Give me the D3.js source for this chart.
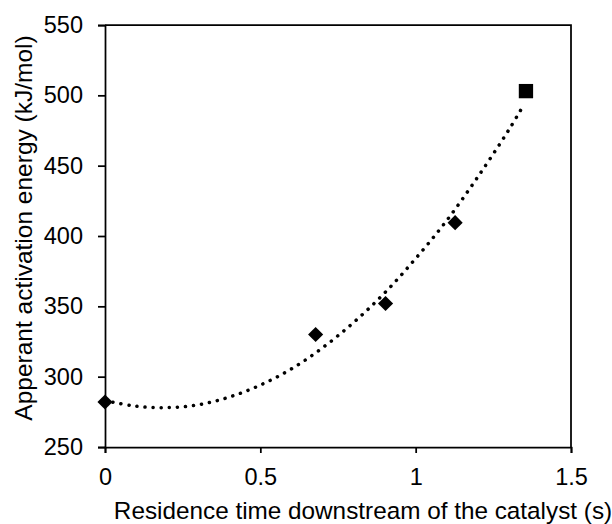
<!DOCTYPE html>
<html>
<head>
<meta charset="utf-8">
<script src="https://cdn.jsdelivr.net/npm/d3@7"></script>
<style>
  body { margin: 0; background: #fff; }
  text { font-family: "Liberation Sans", Arial, sans-serif; fill: #000; }
</style>
</head>
<body>
<div id="chart"></div>
<script>
// measured points (diamonds)
var diamondTime = [0, 0.678, 0.903, 1.127];
var diamondEnergy = [282, 330, 352, 409.5];
// last point (square)
var squareTime = [1.355];
var squareEnergy = [503];
// dotted trend curve
var trendTime = [0, 0.1, 0.2, 0.3, 0.4, 0.5, 0.6, 0.7, 0.8, 0.9, 1.0, 1.1, 1.2, 1.3, 1.35];
var trendEnergy = [283, 279, 278, 280, 285.5, 294, 305.5, 320.5, 338.5, 359.5, 384, 411, 442, 475.5, 494];
// ticks
var xTicks = [0, 0.5, 1, 1.5];
var yTicks = [250, 300, 350, 400, 450, 500, 550];

var margin = {top: 25, right: 41, bottom: 77, left: 105},
    width = 612 - margin.left - margin.right,
    height = 524 - margin.top - margin.bottom;

var svg = d3.select("#chart")
  .append("svg")
    .attr("width", 612)
    .attr("height", 524)
  .append("g")
    .attr("transform", "translate(" + margin.left + "," + margin.top + ")");

var x = d3.scaleLinear().domain([0, 1.5]).range([0, width]);
var y = d3.scaleLinear().domain([250, 550]).range([height, 0]);

// frame (top and right)
svg.append("path")
  .attr("d", "M0,0H" + width + "V" + height)
  .attr("fill", "none")
  .attr("stroke", "#000")
  .attr("stroke-width", 1.75);

// X axis
var xAxis = svg.append("g")
  .attr("transform", "translate(0," + height + ")")
  .call(d3.axisBottom(x).tickValues(xTicks).tickSize(6).tickPadding(15)
    .tickFormat(function(d) { return d; }));
xAxis.selectAll("text").style("font-size", "23.5px");

// Y axis
var yAxis = svg.append("g")
  .call(d3.axisLeft(y).tickValues(yTicks).tickSize(7).tickPadding(15));
yAxis.selectAll("text").style("font-size", "23.5px");

svg.selectAll(".domain, .tick line")
  .attr("stroke", "#000")
  .attr("stroke-width", 1.75);

// axis titles
svg.append("text")
  .attr("x", 258)
  .attr("y", height + 72)
  .style("text-anchor", "middle")
  .style("font-size", "24.3px")
  .text("Residence time downstream of the catalyst (s)");

svg.append("text")
  .attr("transform", "rotate(-90)")
  .attr("x", -203)
  .attr("y", -73)
  .style("text-anchor", "middle")
  .style("font-size", "24.5px")
  .text("Apperant activation energy (kJ/mol)");

// trend line
var trend = trendTime.map(function(t, i) { return [t, trendEnergy[i]]; });
svg.append("path")
  .datum(trend)
  .attr("d", d3.line()
    .x(function(d) { return x(d[0]); })
    .y(function(d) { return y(d[1]); })
    .curve(d3.curveCatmullRom))
  .attr("fill", "none")
  .attr("stroke", "#000")
  .attr("stroke-width", 3.5)
  .attr("stroke-linecap", "round")
  .attr("stroke-dasharray", "0.1 8");

// diamonds
var diamonds = diamondTime.map(function(t, i) { return [t, diamondEnergy[i]]; });
svg.selectAll(".diamond")
  .data(diamonds)
  .enter()
  .append("path")
    .attr("class", "diamond")
    .attr("d", d3.symbol().type(d3.symbolSquare).size(115))
    .attr("transform", function(d) {
      return "translate(" + x(d[0]) + "," + y(d[1]) + ") rotate(45)";
    })
    .attr("fill", "#000");

// square
var squares = squareTime.map(function(t, i) { return [t, squareEnergy[i]]; });
svg.selectAll(".square")
  .data(squares)
  .enter()
  .append("path")
    .attr("class", "square")
    .attr("d", d3.symbol().type(d3.symbolSquare).size(205))
    .attr("transform", function(d) {
      return "translate(" + x(d[0]) + "," + y(d[1]) + ")";
    })
    .attr("fill", "#000");
</script>
</body>
</html>
